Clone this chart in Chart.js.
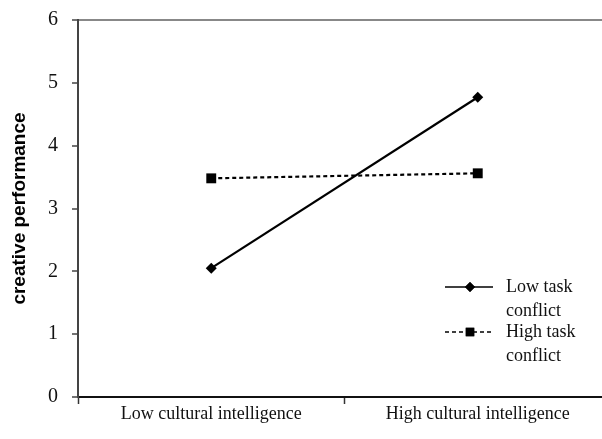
<!DOCTYPE html>
<html>
<head>
<meta charset="utf-8">
<script src="https://cdn.jsdelivr.net/npm/chart.js@4"></script>
<style>
  html, body { margin: 0; padding: 0; background: #fff; overflow: hidden; }
  #wrap { width: 618px; height: 445px; margin-top: -6px; }
</style>
</head>
<body>
<div id="wrap"><canvas id="chart" width="618" height="445"></canvas></div>
<script>
const categories = ['Low cultural intelligence', 'High cultural intelligence'];
const lowConflict = [2.05, 4.77];
const highConflict = [3.48, 3.56];
const yTicks = [0, 1, 2, 3, 4, 5, 6];
const legendLabels = [['Low task', 'conflict'], ['High task', 'conflict']];

const serif = "'Liberation Serif', 'Times New Roman', serif";

// legend drawn inside the plot, bottom right, like the original figure
// (canvas sits 6px higher than the page, so y values here are +6)
const insideLegend = {
  id: 'insideLegend',
  afterDraw(chart) {
    const ctx = chart.ctx;
    const rows = [
      { y: 293, dash: [], style: 'rectRot', r: 5 },
      { y: 338, dash: [4, 3], style: 'rect', r: 6 }
    ];
    ctx.save();
    rows.forEach((row, i) => {
      ctx.strokeStyle = '#000';
      ctx.lineWidth = 1.5;
      ctx.setLineDash(row.dash);
      ctx.beginPath();
      ctx.moveTo(445, row.y);
      ctx.lineTo(493, row.y);
      ctx.stroke();
      ctx.setLineDash([]);
      ctx.fillStyle = '#000';
      Chart.helpers.drawPoint(ctx, { pointStyle: row.style, radius: row.r, borderWidth: 0 }, 470, row.y);
      ctx.fill();
      ctx.font = '18px ' + serif;
      ctx.textBaseline = 'middle';
      ctx.fillStyle = '#111';
      ctx.fillText(legendLabels[i][0], 506, row.y);
      ctx.fillText(legendLabels[i][1], 506, row.y + 24);
    });
    ctx.restore();
  }
};

new Chart(document.getElementById('chart'), {
  type: 'line',
  data: {
    labels: categories,
    datasets: [
      {
        label: 'Low task conflict',
        data: lowConflict,
        borderColor: '#000',
        backgroundColor: '#000',
        borderWidth: 2.2,
        pointStyle: 'rectRot',
        pointRadius: 5.5,
        pointBorderWidth: 0,
        tension: 0
      },
      {
        label: 'High task conflict',
        data: highConflict,
        borderColor: '#000',
        backgroundColor: '#000',
        borderWidth: 2.2,
        borderDash: [4, 3],
        pointStyle: 'rect',
        pointRadius: 7,
        pointBorderWidth: 0,
        tension: 0
      }
    ]
  },
  options: {
    responsive: false,
    animation: false,
    layout: { padding: { top: 13, right: 0, bottom: 0, left: 0 } },
    plugins: { legend: { display: false }, tooltip: { enabled: false } },
    scales: {
      x: {
        offset: true,
        grid: {
          offset: true,
          drawOnChartArea: false,
          tickLength: 7,
          tickColor: '#333',
          tickWidth: 1.5
        },
        border: { color: '#111', width: 2 },
        ticks: { font: { family: serif, size: 18 }, color: '#111', padding: -1 },
        afterFit(scale) { scale.height = 42; }
      },
      y: {
        min: 0,
        max: 6,
        afterBuildTicks(scale) { scale.ticks = yTicks.map(v => ({ value: v })); },
        grid: {
          color: c => (c.tick && c.tick.value === 6 ? '#888' : 'rgba(0,0,0,0)'),
          lineWidth: 2,
          tickLength: 6,
          tickColor: '#444',
          tickWidth: 1.5
        },
        border: { color: '#444', width: 2 },
        ticks: { font: { family: serif, size: 20 }, color: '#111', padding: 14 },
        title: {
          display: true,
          text: 'creative performance',
          font: { family: "'Liberation Sans', Arial, sans-serif", size: 19, weight: 'bold' },
          color: '#000',
          padding: { top: 8, bottom: 0 }
        },
        afterFit(scale) { scale.width = 78; }
      }
    }
  },
  plugins: [insideLegend]
});
</script>
</body>
</html>
